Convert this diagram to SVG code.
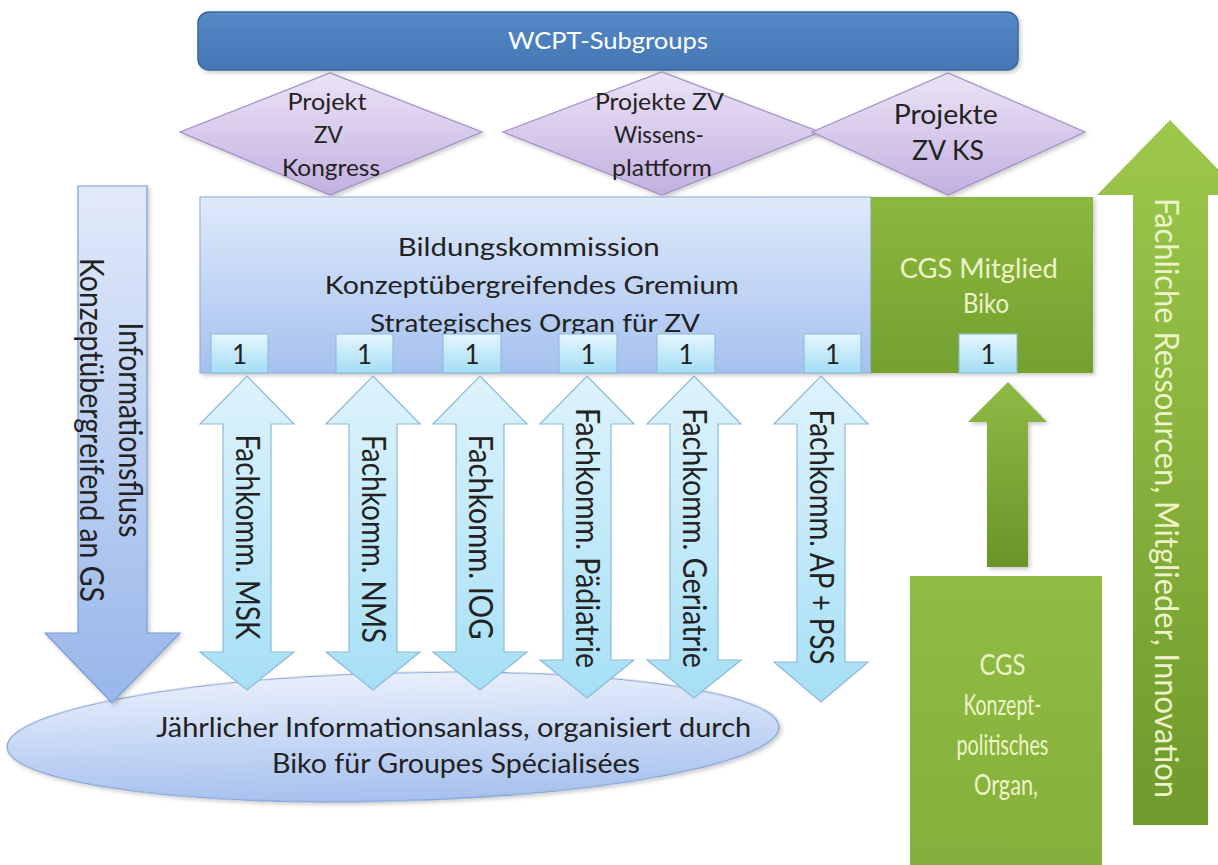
<svg xmlns="http://www.w3.org/2000/svg" width="1218" height="865" viewBox="0 0 1218 865">
<defs>
<linearGradient id="gTop" x1="0" y1="0" x2="0" y2="1"><stop offset="0" stop-color="#5589c6"/><stop offset="1" stop-color="#4676b4"/></linearGradient>
<linearGradient id="gDia" x1="0" y1="0" x2="0" y2="1"><stop offset="0" stop-color="#ece3f7"/><stop offset="1" stop-color="#c3b0e0"/></linearGradient>
<linearGradient id="gBlue" x1="0" y1="0" x2="0" y2="1"><stop offset="0" stop-color="#dfeafb"/><stop offset="1" stop-color="#a6c1ef"/></linearGradient>
<linearGradient id="gBox" x1="0" y1="0" x2="0" y2="1"><stop offset="0" stop-color="#e4f6fd"/><stop offset="1" stop-color="#a3ddf5"/></linearGradient>
<linearGradient id="gCyan" x1="0" y1="0" x2="0" y2="1"><stop offset="0" stop-color="#def3fc"/><stop offset="1" stop-color="#a6dff6"/></linearGradient>
<linearGradient id="gLeft" x1="0" y1="0" x2="0" y2="1"><stop offset="0" stop-color="#e1eafa"/><stop offset="1" stop-color="#98b6ea"/></linearGradient>
<linearGradient id="gEll" x1="0" y1="0" x2="0" y2="1"><stop offset="0" stop-color="#e8effc"/><stop offset="1" stop-color="#a6c0ee"/></linearGradient>
<linearGradient id="gGreen" x1="0" y1="0" x2="0" y2="1"><stop offset="0" stop-color="#8cb83f"/><stop offset="1" stop-color="#74a02e"/></linearGradient>
<linearGradient id="gGreenS" x1="0" y1="0" x2="0" y2="1"><stop offset="0" stop-color="#90ba45"/><stop offset="1" stop-color="#6a9428"/></linearGradient>
<linearGradient id="gGreenB" x1="0" y1="0" x2="0" y2="1"><stop offset="0" stop-color="#9dc84c"/><stop offset="1" stop-color="#6f9a2c"/></linearGradient>
<linearGradient id="gCgs" x1="0" y1="0" x2="0" y2="1"><stop offset="0" stop-color="#90bc44"/><stop offset="1" stop-color="#84b03b"/></linearGradient>
<filter id="sh" x="-10%" y="-10%" width="120%" height="120%"><feDropShadow dx="2" dy="2" stdDeviation="2" flood-color="#000" flood-opacity="0.22"/></filter>
</defs>
<style>
text { font-family: Lato, "Open Sans", "Liberation Sans", sans-serif; }
.dk { fill: #222222; }
.wh { fill: #ffffff; }
.lg { fill: #eef4c8; }
.dia { fill: url(#gDia); stroke: #a08fc4; stroke-width: 1.2; }
.box { fill: url(#gBox); stroke: #8bb7d6; stroke-width: 1; }
.dbl { fill: url(#gCyan); stroke: #8dbbd6; stroke-width: 1.2; }
</style>
<rect width="1218" height="865" fill="#ffffff"/>

<g id="wcpt">
<rect x="198" y="12" width="820" height="58" rx="11" fill="url(#gTop)" stroke="#3a679e" stroke-width="1.5" filter="url(#sh)"/>
<text x="608" y="49" text-anchor="middle" class="wh" font-size="23" textLength="200" lengthAdjust="spacingAndGlyphs">WCPT-Subgroups</text>
</g>

<g id="projekt-kongress">
<polygon class="dia" points="180,132 330,73 482,132 330,195" filter="url(#sh)"/>
<text text-anchor="middle" class="dk" font-size="24">
<tspan x="330" y="110" textLength="79" lengthAdjust="spacingAndGlyphs">Projekt</tspan>
<tspan x="331" y="143" textLength="28" lengthAdjust="spacingAndGlyphs">ZV</tspan>
<tspan x="331" y="176" textLength="98" lengthAdjust="spacingAndGlyphs">Kongress</tspan>
</text>
</g>

<g id="projekte-wissensplattform">
<polygon class="dia" points="503,132 662,72 820,132 662,195" filter="url(#sh)"/>
<text text-anchor="middle" class="dk" font-size="24">
<tspan x="662" y="110" textLength="128" lengthAdjust="spacingAndGlyphs">Projekte ZV</tspan>
<tspan x="662" y="143" textLength="90" lengthAdjust="spacingAndGlyphs">Wissens-</tspan>
<tspan x="662" y="176" textLength="100" lengthAdjust="spacingAndGlyphs">plattform</tspan>
</text>
</g>

<g id="projekte-ks">
<polygon class="dia" points="812,132 948,73 1085,132 948,195" filter="url(#sh)"/>
<text text-anchor="middle" class="dk" font-size="26">
<tspan x="949" y="124" textLength="104" lengthAdjust="spacingAndGlyphs">Projekte</tspan>
<tspan x="948" y="160" textLength="72" lengthAdjust="spacingAndGlyphs">ZV KS</tspan>
</text>
</g>

<g id="bildungskommission">
<rect x="200" y="197" width="671" height="176" fill="url(#gBlue)" stroke="#8ea9d8" stroke-width="1" filter="url(#sh)"/>
<text text-anchor="middle" class="dk" font-size="25">
<tspan x="532" y="256" textLength="262" lengthAdjust="spacingAndGlyphs">Bildungskommission</tspan>
<tspan x="535" y="294" textLength="414" lengthAdjust="spacingAndGlyphs">Konzeptübergreifendes Gremium</tspan>
<tspan x="535" y="332" textLength="330" lengthAdjust="spacingAndGlyphs">Strategisches Organ für ZV</tspan>
</text>
</g>

<g id="cgs-mitglied">
<rect x="871" y="197" width="222" height="176" fill="url(#gGreen)" filter="url(#sh)"/>
<text text-anchor="middle" class="lg" font-size="26">
<tspan x="982" y="278" textLength="158" lengthAdjust="spacingAndGlyphs">CGS Mitglied</tspan>
<tspan x="986" y="313" textLength="46" lengthAdjust="spacingAndGlyphs">Biko</tspan>
</text>
</g>

<g id="sitze">
<rect class="box" x="211" y="334" width="57" height="39"/><text x="239.5" y="364" text-anchor="middle" class="dk" font-size="26">1</text>
<rect class="box" x="336" y="334" width="57" height="39"/><text x="364.5" y="364" text-anchor="middle" class="dk" font-size="26">1</text>
<rect class="box" x="443" y="334" width="58" height="39"/><text x="472" y="364" text-anchor="middle" class="dk" font-size="26">1</text>
<rect class="box" x="559" y="334" width="58" height="39"/><text x="588" y="364" text-anchor="middle" class="dk" font-size="26">1</text>
<rect class="box" x="657" y="334" width="58" height="39"/><text x="686" y="364" text-anchor="middle" class="dk" font-size="26">1</text>
<rect class="box" x="804" y="334" width="57" height="39"/><text x="832.5" y="364" text-anchor="middle" class="dk" font-size="26">1</text>
<rect class="box" x="959" y="334" width="58" height="39"/><text x="988" y="364" text-anchor="middle" class="dk" font-size="26">1</text>
</g>

<g id="informationsanlass">
<ellipse cx="393" cy="737" rx="386" ry="64" transform="rotate(-1.5 393 737)" fill="url(#gEll)" stroke="#7f9fd3" stroke-width="1.2" filter="url(#sh)"/>
<text text-anchor="middle" class="dk" font-size="26">
<tspan x="457" y="737" textLength="595" lengthAdjust="spacingAndGlyphs">Jährlicher Informationsanlass, organisiert durch</tspan>
<tspan x="456" y="773" textLength="368" lengthAdjust="spacingAndGlyphs">Biko für Groupes Spécialisées</tspan>
</text>
</g>

<g id="cgs-organ">
<rect x="910" y="576" width="192" height="289" fill="url(#gCgs)"/>
<text text-anchor="middle" class="lg" font-size="28">
<tspan x="1006" y="675" textLength="46" lengthAdjust="spacingAndGlyphs">CGS</tspan>
<tspan x="1006" y="715" textLength="78" lengthAdjust="spacingAndGlyphs">Konzept-</tspan>
<tspan x="1006" y="755" textLength="92" lengthAdjust="spacingAndGlyphs">politisches</tspan>
<tspan x="1006" y="795" textLength="64" lengthAdjust="spacingAndGlyphs">Organ,</tspan>
</text>
</g>

<g id="connectors">
<path d="M78,186 L147,186 L147,633 L180,633 L112,703 L45,633 L78,633 Z" fill="url(#gLeft)" stroke="#7c9cd1" stroke-width="1.2" filter="url(#sh)"/>
<path class="dbl" d="M247,376 L294,424 L271,424 L271,652 L294,652 L247,690 L200,652 L223,652 L223,424 L200,424 Z"/>
<path class="dbl" d="M373,376 L420,424 L397,424 L397,652 L420,652 L373,690 L326,652 L349,652 L349,424 L326,424 Z"/>
<path class="dbl" d="M480,376 L527,424 L504,424 L504,652 L527,652 L480,690 L433,652 L456,652 L456,424 L433,424 Z"/>
<path class="dbl" d="M587,376 L634,424 L611,424 L611,660 L634,660 L587,698 L540,660 L563,660 L563,424 L540,424 Z"/>
<path class="dbl" d="M694,376 L741,424 L718,424 L718,660 L741,660 L694,698 L647,660 L670,660 L670,424 L647,424 Z"/>
<path class="dbl" d="M821,376 L868,424 L845,424 L845,662 L868,662 L821,702 L774,662 L797,662 L797,424 L774,424 Z"/>
<path d="M1008,382 L1047,422 L1028,422 L1028,567 L987,567 L987,422 L968,422 Z" fill="url(#gGreenS)" filter="url(#sh)"/>
<path d="M1170,120 L1243,195 L1208,195 L1208,825 L1133,825 L1133,195 L1097,195 Z" fill="url(#gGreenB)"/>

<g class="dk" font-size="26" text-anchor="middle">
<text transform="translate(130,430) scale(1.27,1) rotate(90)" x="0" y="9" textLength="215" lengthAdjust="spacingAndGlyphs">Informationsfluss</text>
<text transform="translate(91,430) scale(1.27,1) rotate(90)" x="0" y="9" textLength="344" lengthAdjust="spacingAndGlyphs">Konzeptübergreifend an GS</text>
<text transform="translate(247,537) scale(1.27,1) rotate(90)" x="0" y="9" textLength="205" lengthAdjust="spacingAndGlyphs">Fachkomm. MSK</text>
<text transform="translate(373,539) scale(1.27,1) rotate(90)" x="0" y="9" textLength="208" lengthAdjust="spacingAndGlyphs">Fachkomm. NMS</text>
<text transform="translate(480,537) scale(1.27,1) rotate(90)" x="0" y="9" textLength="205" lengthAdjust="spacingAndGlyphs">Fachkomm. IOG</text>
<text transform="translate(587,538) scale(1.27,1) rotate(90)" x="0" y="9" textLength="260" lengthAdjust="spacingAndGlyphs">Fachkomm. Pädiatrie</text>
<text transform="translate(694,538) scale(1.27,1) rotate(90)" x="0" y="9" textLength="260" lengthAdjust="spacingAndGlyphs">Fachkomm. Geriatrie</text>
<text transform="translate(821,537) scale(1.27,1) rotate(90)" x="0" y="9" textLength="255" lengthAdjust="spacingAndGlyphs">Fachkomm. AP + PSS</text>
</g>
<text class="lg" font-size="26" text-anchor="middle" transform="translate(1166,498) scale(1.27,1) rotate(90)" x="0" y="9" textLength="600" lengthAdjust="spacingAndGlyphs">Fachliche Ressourcen, Mitglieder, Innovation</text>
</g>
</svg>
